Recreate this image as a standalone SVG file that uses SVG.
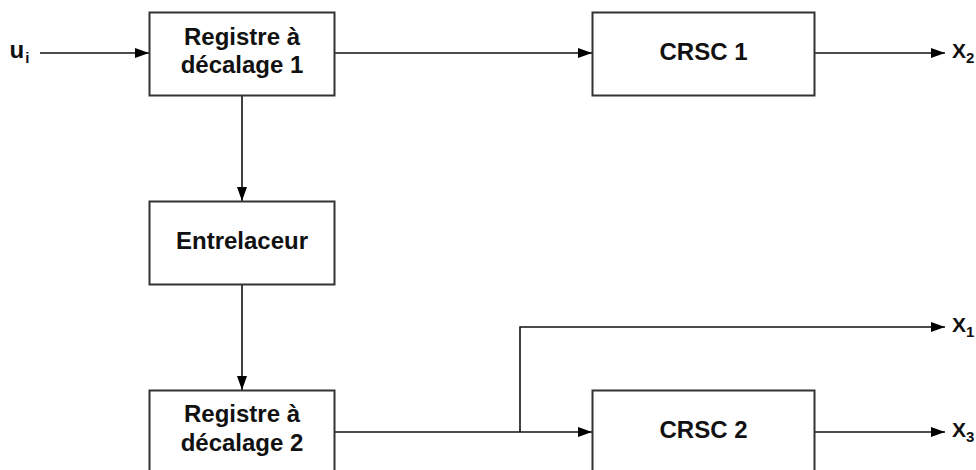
<svg xmlns="http://www.w3.org/2000/svg" width="976" height="470" viewBox="0 0 976 470">
  <defs>
    <marker id="arrow" markerWidth="14" markerHeight="10" refX="14" refY="5" orient="auto" markerUnits="userSpaceOnUse">
      <path d="M0,0 L14,5 L0,10 Z" fill="#000"/>
    </marker>
  </defs>
  <style>
    .box { fill: #fff; stroke: #333; stroke-width: 2; }
    .lbl { font-family: "Liberation Sans", Arial, sans-serif; font-weight: bold; font-size: 24px; fill: #111; text-anchor: middle; }
    .io { font-family: "Liberation Sans", Arial, sans-serif; font-weight: bold; font-size: 21px; fill: #111; }
    .in { font-size: 24px; }
    .sub { font-size: 15px; }
    .wire { fill: none; stroke: #111; stroke-width: 1.6; }
  </style>
  <rect width="976" height="470" fill="#fff"/>

  <g id="connectors">
    <line class="wire" x1="40" y1="53" x2="149" y2="53" marker-end="url(#arrow)"/>
    <line class="wire" x1="335" y1="53" x2="592" y2="53" marker-end="url(#arrow)"/>
    <line class="wire" x1="815" y1="53" x2="945" y2="53" marker-end="url(#arrow)"/>
    <line class="wire" x1="242" y1="96" x2="242" y2="201" marker-end="url(#arrow)"/>
    <line class="wire" x1="242" y1="284" x2="242" y2="390" marker-end="url(#arrow)"/>
    <line class="wire" x1="334" y1="432" x2="592" y2="432" marker-end="url(#arrow)"/>
    <polyline class="wire" points="520,432 520,327 945,327" marker-end="url(#arrow)"/>
    <line class="wire" x1="815" y1="432" x2="945" y2="432" marker-end="url(#arrow)"/>
  </g>

  <g id="input-ui">
    <text class="io in" x="9.5" y="57.5">u<tspan class="sub" dx="1" dy="5.5">i</tspan></text>
  </g>

  <g id="registre-1">
    <rect class="box" x="149.5" y="12.5" width="185" height="83"/>
    <text class="lbl" x="242" y="45">Registre à</text>
    <text class="lbl" x="242" y="73">décalage 1</text>
  </g>

  <g id="crsc-1">
    <rect class="box" x="592.5" y="12.5" width="222" height="83"/>
    <text class="lbl" x="703.5" y="60">CRSC 1</text>
  </g>

  <g id="entrelaceur">
    <rect class="box" x="149.5" y="201.5" width="185" height="83"/>
    <text class="lbl" x="242" y="249">Entrelaceur</text>
  </g>

  <g id="registre-2">
    <rect class="box" x="149.5" y="390.5" width="185" height="83"/>
    <text class="lbl" x="242" y="422">Registre à</text>
    <text class="lbl" x="242" y="451">décalage 2</text>
  </g>

  <g id="crsc-2">
    <rect class="box" x="592.5" y="390.5" width="222" height="83"/>
    <text class="lbl" x="703.5" y="438">CRSC 2</text>
  </g>

  <g id="output-x2">
    <text class="io" x="952" y="57.5">X<tspan class="sub" dy="5">2</tspan></text>
  </g>
  <g id="output-x1">
    <text class="io" x="952" y="331.5">X<tspan class="sub" dy="5">1</tspan></text>
  </g>
  <g id="output-x3">
    <text class="io" x="952" y="436.5">X<tspan class="sub" dy="5">3</tspan></text>
  </g>
</svg>
